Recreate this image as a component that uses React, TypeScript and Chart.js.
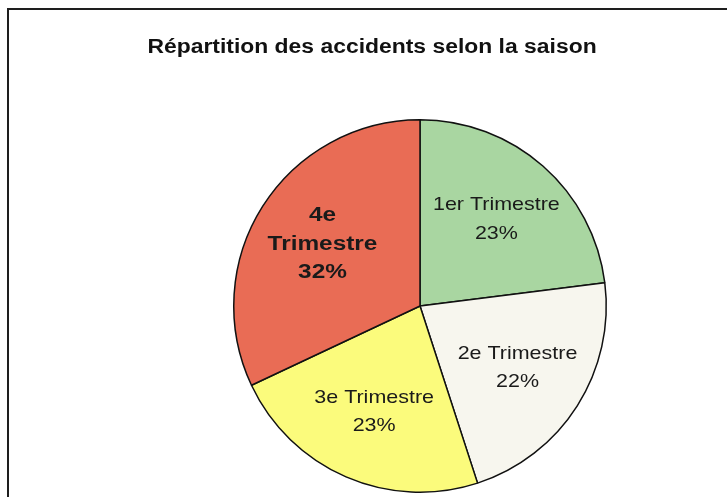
import React, { useEffect, useRef } from "react";
import { Chart, registerables } from "chart.js";

Chart.register(...registerables);

const titleText = "Répartition des accidents selon la saison";
const categories = ["1er Trimestre", "2e Trimestre", "3e Trimestre", "4e Trimestre"];
const values = [23, 22, 23, 32];
const labelLines = [["1er Trimestre"], ["2e Trimestre"], ["3e Trimestre"], ["4e", "Trimestre"]];
const labelBold = [false, false, false, true];
const sliceColors = ["#A9D6A1", "#F7F6EE", "#FBFB7C", "#E96C55"];

const FONT = '"Liberation Sans", Arial, sans-serif';

const frameAndTitle = {
  id: "frameAndTitle",
  beforeDraw(chart: any) {
    const ctx = chart.ctx;
    ctx.save();
    ctx.fillStyle = "#ffffff";
    ctx.fillRect(0, 0, chart.width, chart.height);
    ctx.strokeStyle = "#1e1e1e";
    ctx.lineWidth = 2;
    ctx.beginPath();
    ctx.moveTo(8, chart.height + 5);
    ctx.lineTo(8, 9);
    ctx.lineTo(chart.width + 5, 9);
    ctx.stroke();
    ctx.restore();
  },
  afterDraw(chart: any) {
    const ctx = chart.ctx;
    ctx.save();
    ctx.fillStyle = "#111111";
    ctx.textAlign = "center";
    ctx.textBaseline = "middle";
    ctx.font = "bold 20px " + FONT;
    ctx.translate(372, 47);
    ctx.scale(1.145, 1);
    ctx.fillText(titleText, 0, 0);
    ctx.restore();
  },
};

const sliceLabels = {
  id: "sliceLabels",
  afterDatasetsDraw(chart: any) {
    const ctx = chart.ctx;
    const meta = chart.getDatasetMeta(0);
    const data = chart.data.datasets[0].data as number[];
    const total = data.reduce((a, b) => a + b, 0);
    meta.data.forEach((arc: any, i: number) => {
      const { x, y, startAngle, endAngle, outerRadius } = arc.getProps(
        ["x", "y", "startAngle", "endAngle", "outerRadius"],
        true
      );
      const mid = (startAngle + endAngle) / 2;
      const r = outerRadius * 0.62;
      const cx = x + Math.cos(mid) * r;
      const cy = y + Math.sin(mid) * r;
      const lines = [...labelLines[i], Math.round((data[i] / total) * 100) + "%"];
      const lh = 28.5;
      ctx.save();
      ctx.fillStyle = "#1a1a1a";
      ctx.textAlign = "center";
      ctx.textBaseline = "middle";
      ctx.font = (labelBold[i] ? "bold 20px " : "18.5px ") + FONT;
      const sx = labelBold[i] ? 1.22 : 1.16;
      const top = cy - ((lines.length - 1) * lh) / 2;
      lines.forEach((t, k) => {
        ctx.save();
        ctx.translate(cx, top + k * lh);
        ctx.scale(sx, 1);
        ctx.fillText(t, 0, 0);
        ctx.restore();
      });
      ctx.restore();
    });
  },
};

export default function App() {
  const ref = useRef<HTMLCanvasElement | null>(null);
  useEffect(() => {
    if (!ref.current) return;
    const chart = new Chart(ref.current, {
      type: "pie",
      data: {
        labels: categories,
        datasets: [
          {
            data: values,
            backgroundColor: sliceColors,
            borderColor: "#111111",
            borderWidth: 1.5,
          },
        ],
      },
      options: {
        responsive: false,
        animation: false,
        layout: { padding: { left: 233, right: 120, top: 119, bottom: 4 } },
        plugins: {
          legend: { display: false },
          tooltip: { enabled: false },
          title: { display: false },
        },
      },
      plugins: [frameAndTitle, sliceLabels],
    });
    return () => chart.destroy();
  }, []);
  return (
    <canvas
      ref={ref}
      width={727}
      height={497}
      style={{ position: "fixed", left: 0, top: 0, width: 727, height: 497 }}
    />
  );
}
